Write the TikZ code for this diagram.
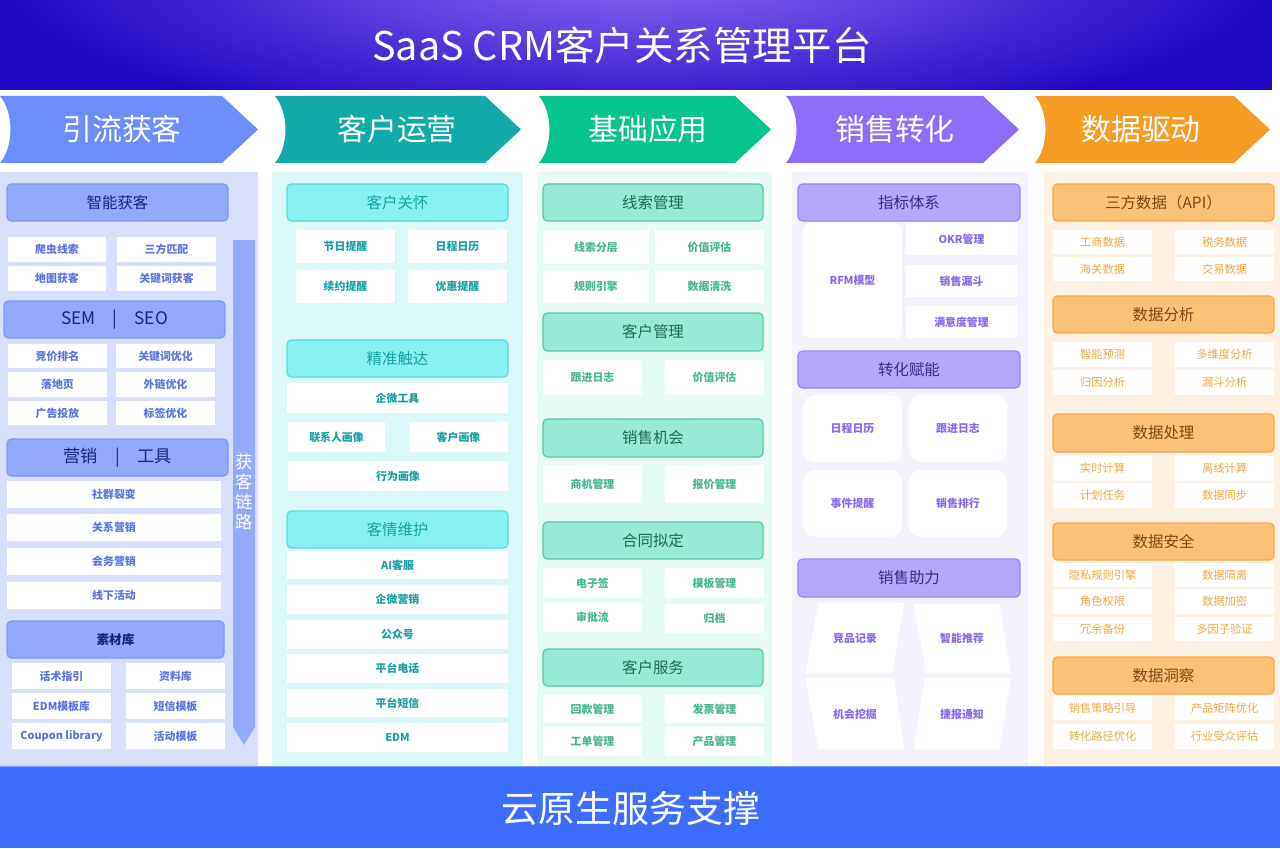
\documentclass[tikz,border=0pt]{standalone}
\usepackage{fontspec}
\setmainfont{Noto Sans CJK SC}
\usepackage{tikz}

\definecolor{bannerbase}{HTML}{1F06C4}
\definecolor{bannerglow}{HTML}{8C68F2}
\definecolor{support}{HTML}{3D6DFF}
\definecolor{supportedge}{HTML}{7D9BFF}
\definecolor{chevA}{HTML}{6D8DFB}
\definecolor{chevB}{HTML}{12A9A9}
\definecolor{chevC}{HTML}{05C48D}
\definecolor{chevD}{HTML}{8F6DF9}
\definecolor{chevE}{HTML}{F49C24}
\definecolor{bgA}{HTML}{D7DFFC}
\definecolor{bgB}{HTML}{DCF7F7}
\definecolor{bgC}{HTML}{E6FCF5}
\definecolor{bgD}{HTML}{F5F2FE}
\definecolor{bgE}{HTML}{FDF1E4}
\definecolor{hdAfill}{HTML}{93A9FA}
\definecolor{hdAline}{HTML}{7F97F4}
\definecolor{hdAtext}{HTML}{17257F}
\definecolor{itAtext}{HTML}{5B74E4}
\definecolor{hdBfill}{HTML}{8AF1F1}
\definecolor{hdBline}{HTML}{55DADA}
\definecolor{hdBtext}{HTML}{17A0A0}
\definecolor{itBtext}{HTML}{17A0A0}
\definecolor{hdCfill}{HTML}{97EAD6}
\definecolor{hdCline}{HTML}{5DC3A6}
\definecolor{hdCtext}{HTML}{1F6B52}
\definecolor{itCtext}{HTML}{46B890}
\definecolor{hdDfill}{HTML}{B6A6FC}
\definecolor{hdDline}{HTML}{9B86F5}
\definecolor{hdDtext}{HTML}{3A2A8C}
\definecolor{itDtext}{HTML}{8B67F2}
\definecolor{hdEfill}{HTML}{FDC078}
\definecolor{hdEline}{HTML}{F7A944}
\definecolor{hdEtext}{HTML}{7A4A12}
\definecolor{itEtext}{HTML}{F5A644}

\tikzset{
  hdr/.style={draw, line width=0.7pt, rounded corners=2.5pt, inner sep=0pt,
    font=\fontsize{8.8}{10}\selectfont},
  hdrA/.style={hdr, fill=hdAfill, draw=hdAline, text=hdAtext},
  hdrB/.style={hdr, fill=hdBfill, draw=hdBline, text=hdBtext},
  hdrC/.style={hdr, fill=hdCfill, draw=hdCline, text=hdCtext},
  hdrD/.style={hdr, fill=hdDfill, draw=hdDline, text=hdDtext},
  hdrE/.style={hdr, fill=hdEfill, draw=hdEline, text=hdEtext},
  it/.style={fill=white, inner sep=0pt, font=\bfseries\fontsize{6.2}{7}\selectfont},
  itA/.style={it, text=itAtext},
  itB/.style={it, text=itBtext},
  itC/.style={it, text=itCtext},
  itD/.style={it, text=itDtext},
  itE/.style={it, font=\fontsize{6.4}{7}\selectfont, text=itEtext},
  lbD/.style={inner sep=0pt, text=itDtext, font=\bfseries\fontsize{6.2}{7}\selectfont},
  chevtext/.style={text=white, font=\fontsize{17}{20}\selectfont},
}

% box from corner (x1,y1) to (x2,y2): style, name, x1, y1, x2, y2, text
\newcommand{\blk}[7]{%
  \node[#1, minimum width={(#5-#3)*0.02cm}, minimum height={(#6-#4)*0.02cm}]
    (#2) at ({(#3+#5)/2},{(#4+#6)/2}) {#7};}

\begin{document}
\begin{tikzpicture}[x=0.02cm, y=-0.02cm]
  \useasboundingbox (0,0) rectangle (1280,848);

  % Title banner.
  \fill[bannerbase] (0,0) rectangle (1272,90);
  \begin{scope}
    \clip (0,0) rectangle (1272,90);
    \shade[inner color=bannerglow, outer color=bannerbase] (636,-25) ellipse (640 and 160);
  \end{scope}
  \node[text=white, font=\fontsize{22.5}{26}\selectfont] (title) at (622,45)
    {SaaS CRM客户关系管理平台};

  % Stage chevrons.
  \foreach \xa/\xb/\xt/\col/\t/\nm in {0/258/122/chevA/引流获客/flow,
      275/521/397/chevB/客户运营/ops, 539/771/648/chevC/基础应用/base,
      786/1019/895/chevD/销售转化/sales, 1035/1270/1141/chevE/数据驱动/data} {
    \fill[\col] (\xa,96) -- ({\xb-36},96) -- (\xb,129.5) -- ({\xb-36},163) -- (\xa,163)
      .. controls ({\xa+14},146) and ({\xa+14},113) .. (\xa,96) -- cycle;
    \node[chevtext] (\nm) at (\xt,129.5) {\t};
  }

  % Column backgrounds.
  \fill[bgA] (0,172) rectangle (258,766);
  \fill[bgB] (272,172) rectangle (523,766);
  \fill[bgC] (537,172) rectangle (772,766);
  \fill[bgD] (792,172) rectangle (1028,766);
  \fill[bgE] (1044,172) rectangle (1280,766);

  % Column 1 -- 引流获客.
  \blk{hdrA}{smart}{7}{184}{228}{221}{智能获客}
  \foreach \ya/\yb/\ta/\tb [count=\i] in {237/262/爬虫线索/三方匹配, 266/291/地图获客/关键词获客} {
    \blk{itA}{smart\i a}{8}{\ya}{106}{\yb}{\ta}
    \blk{itA}{smart\i b}{117}{\ya}{216}{\yb}{\tb}
  }
  \blk{hdrA, font=\fontsize{9.8}{11}\selectfont}{sem}{4}{301}{225}{338}{SEM\quad|\quad SEO}
  \foreach \ya/\yb/\ta/\tb [count=\i] in {344/368/竞价排名/关键词优化,
      372/397/落地页/外链优化, 401/425/广告投放/标签优化} {
    \blk{itA}{sem\i a}{8}{\ya}{107}{\yb}{\ta}
    \blk{itA}{sem\i b}{116}{\ya}{215}{\yb}{\tb}
  }
  \blk{hdrA, font=\fontsize{9.8}{11}\selectfont}{tools}{7}{439}{228}{476}{营销\quad|\quad 工具}
  \foreach \ya/\yb/\t [count=\i] in {481/508/社群裂变, 514/541/关系营销,
      548/575/会务营销, 582/609/线下活动} {
    \blk{itA}{tools\i}{7}{\ya}{221}{\yb}{\t}
  }
  \blk{hdrA, font=\bfseries\fontsize{7.2}{8}\selectfont}{assets}{7}{621}{224}{658}{素材库}
  \foreach \ya/\yb/\ta/\tb [count=\i] in {663/689/话术指引/资料库,
      693/719/EDM模板库/短信模板, 723/749/Coupon library/活动模板} {
    \blk{itA}{assets\i a}{12}{\ya}{111}{\yb}{\ta}
    \blk{itA}{assets\i b}{126}{\ya}{225}{\yb}{\tb}
  }
  % Acquisition chain arrow.
  \fill[hdAfill] (233,240) -- (255,240) -- (255,727) -- (244,745) -- (233,727) -- cycle;
  \node[text=white, align=center, font=\fontsize{9.8}{11.3}\selectfont] (chain)
    at (244,492) {获\\客\\链\\路};

  % Column 2 -- 客户运营.
  \blk{hdrB}{care}{287}{184}{508}{221}{客户关怀}
  \foreach \ya/\yb/\ta/\tb [count=\i] in {230/263/节日提醒/日程日历, 270/303/续约提醒/优惠提醒} {
    \blk{itB}{care\i a}{296}{\ya}{395}{\yb}{\ta}
    \blk{itB}{care\i b}{408}{\ya}{507}{\yb}{\tb}
  }
  \blk{hdrB}{reach}{287}{340}{508}{377}{精准触达}
  \blk{itB}{reach1}{287}{383}{508}{413}{企微工具}
  \blk{itB}{reach2a}{288}{422}{385}{452}{联系人画像}
  \blk{itB}{reach2b}{409}{422}{508}{452}{客户画像}
  \blk{itB}{reach3}{288}{461}{508}{491}{行为画像}
  \blk{hdrB}{keep}{287}{511}{508}{548}{客情维护}
  \foreach \ya/\yb/\t [count=\i] in {551/579/AI客服, 585/614/企微营销, 620/649/公众号,
      654/683/平台电话, 689/717/平台短信, 723/752/EDM} {
    \blk{itB}{keep\i}{287}{\ya}{508}{\yb}{\t}
  }

  % Column 3 -- 基础应用.
  \blk{hdrC}{leads}{543}{184}{763}{221}{线索管理}
  \foreach \ya/\yb/\ta/\tb [count=\i] in {230/264/线索分层/价值评估, 270/303/规则引擎/数据清洗} {
    \blk{itC}{leads\i a}{543}{\ya}{649}{\yb}{\ta}
    \blk{itC}{leads\i b}{655}{\ya}{764}{\yb}{\tb}
  }
  \blk{hdrC}{cust}{543}{313}{763}{351}{客户管理}
  \blk{itC}{cust1a}{543}{360}{642}{395}{跟进日志}
  \blk{itC}{cust1b}{665}{360}{764}{395}{价值评估}
  \blk{hdrC}{opp}{543}{419}{763}{457}{销售机会}
  \blk{itC}{opp1a}{543}{465}{642}{503}{商机管理}
  \blk{itC}{opp1b}{665}{465}{764}{503}{报价管理}
  \blk{hdrC}{contract}{543}{522}{763}{559}{合同拟定}
  \blk{itC}{contract1a}{543}{568}{642}{598}{电子签}
  \blk{itC}{contract1b}{665}{568}{764}{598}{模板管理}
  \blk{itC}{contract2a}{543}{603}{642}{632}{审批流}
  \blk{itC}{contract2b}{665}{604}{764}{633}{归档}
  \blk{hdrC}{service}{543}{649}{763}{686}{客户服务}
  \foreach \ya/\yb/\ta/\tb [count=\i] in {695/723/回款管理/发票管理, 727/756/工单管理/产品管理} {
    \blk{itC}{service\i a}{543}{\ya}{642}{\yb}{\ta}
    \blk{itC}{service\i b}{665}{\ya}{764}{\yb}{\tb}
  }

  % Column 4 -- 销售转化.
  \blk{hdrD}{kpi}{798}{184}{1020}{221}{指标体系}
  \blk{itD, rounded corners=4pt}{rfm}{803}{223}{902}{338}{RFM模型}
  \foreach \ya/\yb/\t [count=\i] in {223/255/OKR管理, 265/297/销售漏斗, 306/338/满意度管理} {
    \blk{itD}{kpi\i}{906}{\ya}{1017}{\yb}{\t}
  }
  \blk{hdrD}{enable}{798}{351}{1020}{388}{转化赋能}
  \foreach \ya/\yb/\ta/\tb [count=\i] in {395/462/日程日历/跟进日志, 470/537/事件提醒/销售排行} {
    \blk{itD, rounded corners=7pt}{enable\i a}{803}{\ya}{902}{\yb}{\ta}
    \blk{itD, rounded corners=7pt}{enable\i b}{909}{\ya}{1007}{\yb}{\tb}
  }
  \blk{hdrD}{assist}{798}{559}{1020}{597}{销售助力}
  \fill[white] (818,603) -- (904,603) -- (892,673) -- (806,673) -- cycle;
  \fill[white] (914,604) -- (999,604) -- (1011,673) -- (926,673) -- cycle;
  \fill[white] (806,678) -- (894,678) -- (904,749) -- (818,749) -- cycle;
  \fill[white] (925,678) -- (1011,678) -- (999,749) -- (914,749) -- cycle;
  \node[lbD] (assist1a) at (855,638) {竞品记录};
  \node[lbD] (assist1b) at (962,638) {智能推荐};
  \node[lbD] (assist2a) at (855,714) {机会挖掘};
  \node[lbD] (assist2b) at (962,714) {捷报通知};

  % Column 5 -- 数据驱动.
  \blk{hdrE}{api}{1053}{184}{1274}{221}{三方数据（API）}
  \foreach \ya/\yb/\ta/\tb [count=\i] in {230/254/工商数据/税务数据, 257/281/海关数据/交易数据} {
    \blk{itE}{api\i a}{1053}{\ya}{1152}{\yb}{\ta}
    \blk{itE}{api\i b}{1175}{\ya}{1274}{\yb}{\tb}
  }
  \blk{hdrE}{analysis}{1053}{296}{1274}{333}{数据分析}
  \foreach \ya/\yb/\ta/\tb [count=\i] in {342/367/智能预测/多维度分析, 370/395/归因分析/漏斗分析} {
    \blk{itE}{analysis\i a}{1053}{\ya}{1152}{\yb}{\ta}
    \blk{itE}{analysis\i b}{1175}{\ya}{1274}{\yb}{\tb}
  }
  \blk{hdrE}{process}{1053}{414}{1274}{452}{数据处理}
  \foreach \ya/\yb/\ta/\tb [count=\i] in {456/481/实时计算/离线计算, 483/508/计划任务/数据同步} {
    \blk{itE}{process\i a}{1053}{\ya}{1152}{\yb}{\ta}
    \blk{itE}{process\i b}{1175}{\ya}{1274}{\yb}{\tb}
  }
  \blk{hdrE}{security}{1053}{523}{1274}{560}{数据安全}
  \foreach \ya/\yb/\ta/\tb [count=\i] in {563/587/隐私规则引擎/数据隔离,
      589/614/角色权限/数据加密, 617/641/冗余备份/多因子验证} {
    \blk{itE}{security\i a}{1053}{\ya}{1152}{\yb}{\ta}
    \blk{itE}{security\i b}{1175}{\ya}{1274}{\yb}{\tb}
  }
  \blk{hdrE}{insight}{1053}{657}{1274}{694}{数据洞察}
  \foreach \ya/\yb/\ta/\tb [count=\i] in {696/720/销售策略引导/产品矩阵优化,
      724/749/转化路径优化/行业受众评估} {
    \blk{itE}{insight\i a}{1053}{\ya}{1152}{\yb}{\ta}
    \blk{itE}{insight\i b}{1175}{\ya}{1274}{\yb}{\tb}
  }

  % Support band.
  \fill[support] (0,766) rectangle (1280,848);
  \draw[supportedge, line width=0.6pt] (0,766.5) -- (1280,766.5);
  \node[text=white, font=\fontsize{21}{24}\selectfont] (cloud) at (631,809) {云原生服务支撑};

\end{tikzpicture}
\end{document}
